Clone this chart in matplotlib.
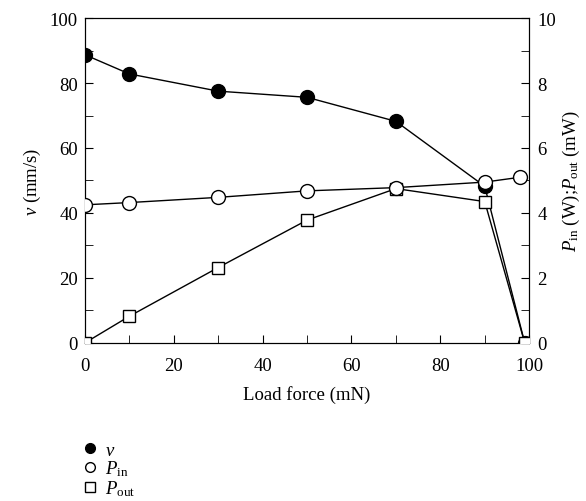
import matplotlib
matplotlib.use('Agg')
import matplotlib.pyplot as plt
import matplotlib.lines as mlines
from matplotlib.ticker import MultipleLocator

plt.rcParams['font.family'] = ['Liberation Serif', 'DejaVu Serif']
plt.rcParams['mathtext.fontset'] = 'custom'
plt.rcParams['mathtext.rm'] = 'Liberation Serif'
plt.rcParams['mathtext.it'] = 'Liberation Serif:italic'

# Dados
forca_v = [0, 10, 30, 50, 70, 90, 99]
velocidade = [88.7, 82.8, 77.5, 75.6, 68.2, 48.2, 0]

forca_pin = [0, 10, 30, 50, 70, 90, 98]
p_in = [4.25, 4.32, 4.48, 4.68, 4.78, 4.95, 5.1]

forca_pout = [0, 10, 30, 50, 70, 90, 99]
p_out = [0.0, 0.82, 2.32, 3.78, 4.75, 4.35, 0.0]

fig = plt.figure(figsize=(5.86, 5.02), dpi=100)
ax = fig.add_axes([0.145, 0.315, 0.758, 0.647])
ax2 = ax.twinx()

# Velocidade (eixo esquerdo)
ax.plot(forca_v, velocidade, color='black', lw=1, marker='o', markersize=10,
        markerfacecolor='black', markeredgecolor='black', zorder=3)

# Potências (eixo direito)
ax2.plot(forca_pout, p_out, color='black', lw=1, marker='s', markersize=8.5,
         markerfacecolor='white', markeredgecolor='black', zorder=3)
ax2.plot(forca_pin, p_in, color='black', lw=1, marker='o', markersize=10,
         markerfacecolor='white', markeredgecolor='black', zorder=4)

ax.set_xlim(0, 100)
ax.set_ylim(0, 100)
ax2.set_ylim(0, 10)

ax.xaxis.set_major_locator(MultipleLocator(20))
ax.xaxis.set_minor_locator(MultipleLocator(10))
ax.yaxis.set_major_locator(MultipleLocator(20))
ax.yaxis.set_minor_locator(MultipleLocator(10))
ax2.yaxis.set_major_locator(MultipleLocator(2))
ax2.yaxis.set_minor_locator(MultipleLocator(1))

fs = 13.5
for a in (ax, ax2):
    a.tick_params(which='both', direction='in', labelsize=fs)
    a.tick_params(which='major', length=6)
    a.tick_params(which='minor', length=6)
ax.tick_params(axis='y', right=False, pad=5)
ax.tick_params(axis='x', top=False, pad=10)
ax2.tick_params(axis='y', pad=6)

ax.set_xlabel('Load force (mN)', fontsize=fs, labelpad=8)
ax.set_ylabel(r'$\it{v}$ (mm/s)', fontsize=fs, labelpad=5)
ax2.set_ylabel(r'$\it{P}_{\rm in}$ (W);$\it{P}_{\rm out}$ (mW)', fontsize=fs, labelpad=3)

# Legenda abaixo do gráfico
h_v = mlines.Line2D([], [], color='black', marker='o', markersize=7, linestyle='None',
                    markerfacecolor='black', label=r'$\it{v}$')
h_in = mlines.Line2D([], [], color='black', marker='o', markersize=7, linestyle='None',
                     markerfacecolor='white', label=r'$\it{P}_{\rm in}$')
h_out = mlines.Line2D([], [], color='black', marker='s', markersize=7, linestyle='None',
                      markerfacecolor='white', label=r'$\it{P}_{\rm out}$')
fig.legend(handles=[h_v, h_in, h_out], loc='lower left', bbox_to_anchor=(0.105, -0.028),
           frameon=False, fontsize=fs, handletextpad=0.2, labelspacing=0.0,
           handlelength=1.2)

fig.savefig('out.png', dpi=100)
